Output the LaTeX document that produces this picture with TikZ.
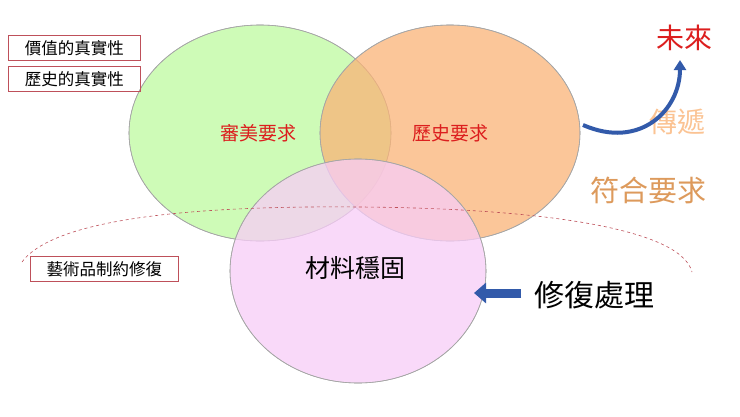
\documentclass[tikz,border=0pt]{standalone}
\usepackage{fontspec}
\newfontfamily\cjk{Noto Sans CJK TC}
\usetikzlibrary{arrows.meta}
\definecolor{gfill}{RGB}{190,250,160}
\definecolor{ofill}{RGB}{250,180,120}
\definecolor{pfill}{RGB}{248,205,248}
\definecolor{boxred}{RGB}{190,80,90}
\definecolor{txtred}{RGB}{220,30,30}
\definecolor{bluearr}{RGB}{50,90,170}
\tikzset{
 circ/.style={draw=gray!70,line width=0.6pt,fill opacity=0.75},
 lbox/.style={draw=boxred,line width=0.6pt,inner sep=2pt,minimum height=25pt,font=\cjk\fontsize{16.5}{16.5}\selectfont},
}
\begin{document}
\begin{tikzpicture}[x=1pt,y=-1pt]
\useasboundingbox (0,0) rectangle (740,416);
\fill[white] (0,0) rectangle (740,416);
\fill[circ,fill=gfill] (260,133) ellipse [x radius=131,y radius=108];
\draw[gray!70,line width=0.6pt] (260,133) ellipse [x radius=131,y radius=108];
\fill[circ,fill=ofill] (450,133) ellipse [x radius=130,y radius=108];
\draw[gray!70,line width=0.6pt] (450,133) ellipse [x radius=130,y radius=108];
\fill[circ,fill=pfill] (358,271) ellipse [x radius=128,y radius=112];
\draw[gray!70,line width=0.6pt] (358,271) ellipse [x radius=128,y radius=112];
\coordinate (da) at (22,262);
\coordinate (db) at (692,272);
\draw[boxred,dashed,line width=0.6pt] (da) .. controls (60,210) and (250,206) .. (360,207) .. controls (520,208) and (680,225) .. (db);
\node[lbox,anchor=west,minimum width=132pt] (b1) at (8,48) {價值的真實性};
\node[lbox,anchor=west,minimum width=132pt] (b2) at (8,79) {歷史的真實性};
\node[lbox,anchor=west,fill=white,minimum width=148pt] (b3) at (30,269) {藝術品制約修復};
\node[text=txtred,font=\cjk\fontsize{19}{19}\selectfont] (t1) at (258,133) {審美要求};
\node[text=txtred,font=\cjk\fontsize{19}{19}\selectfont] (t2) at (450,133) {歷史要求};
\node[font=\cjk\fontsize{25}{25}\selectfont] (t3) at (355,268) {材料穩固};
\node[font=\cjk\fontsize{30}{30}\selectfont] (t4) at (594,295) {修復處理};
\node[text=txtred,font=\cjk\fontsize{28}{28}\selectfont] (t5) at (684,38) {未來};
\node[text=ofill!80!white,font=\cjk\fontsize{28}{28}\selectfont] (t6) at (677,122) {傳遞};
\node[text=ofill!50!brown,font=\cjk\fontsize{29}{29}\selectfont] (t7) at (648,190) {符合要求};
\coordinate (a1) at (521,293);
\coordinate (a2) at (474,293);
\draw[bluearr,line width=9pt,-{Triangle[length=12pt,width=20pt]}] (a1) -- (a2);
\coordinate (c0) at (583,125);
\coordinate (c1) at (680,60);
\draw[bluearr,line width=4pt,-{Triangle[length=10pt,width=12pt]}] (c0) .. controls (640,150) and (680,110) .. (c1);
\end{tikzpicture}
\end{document}
